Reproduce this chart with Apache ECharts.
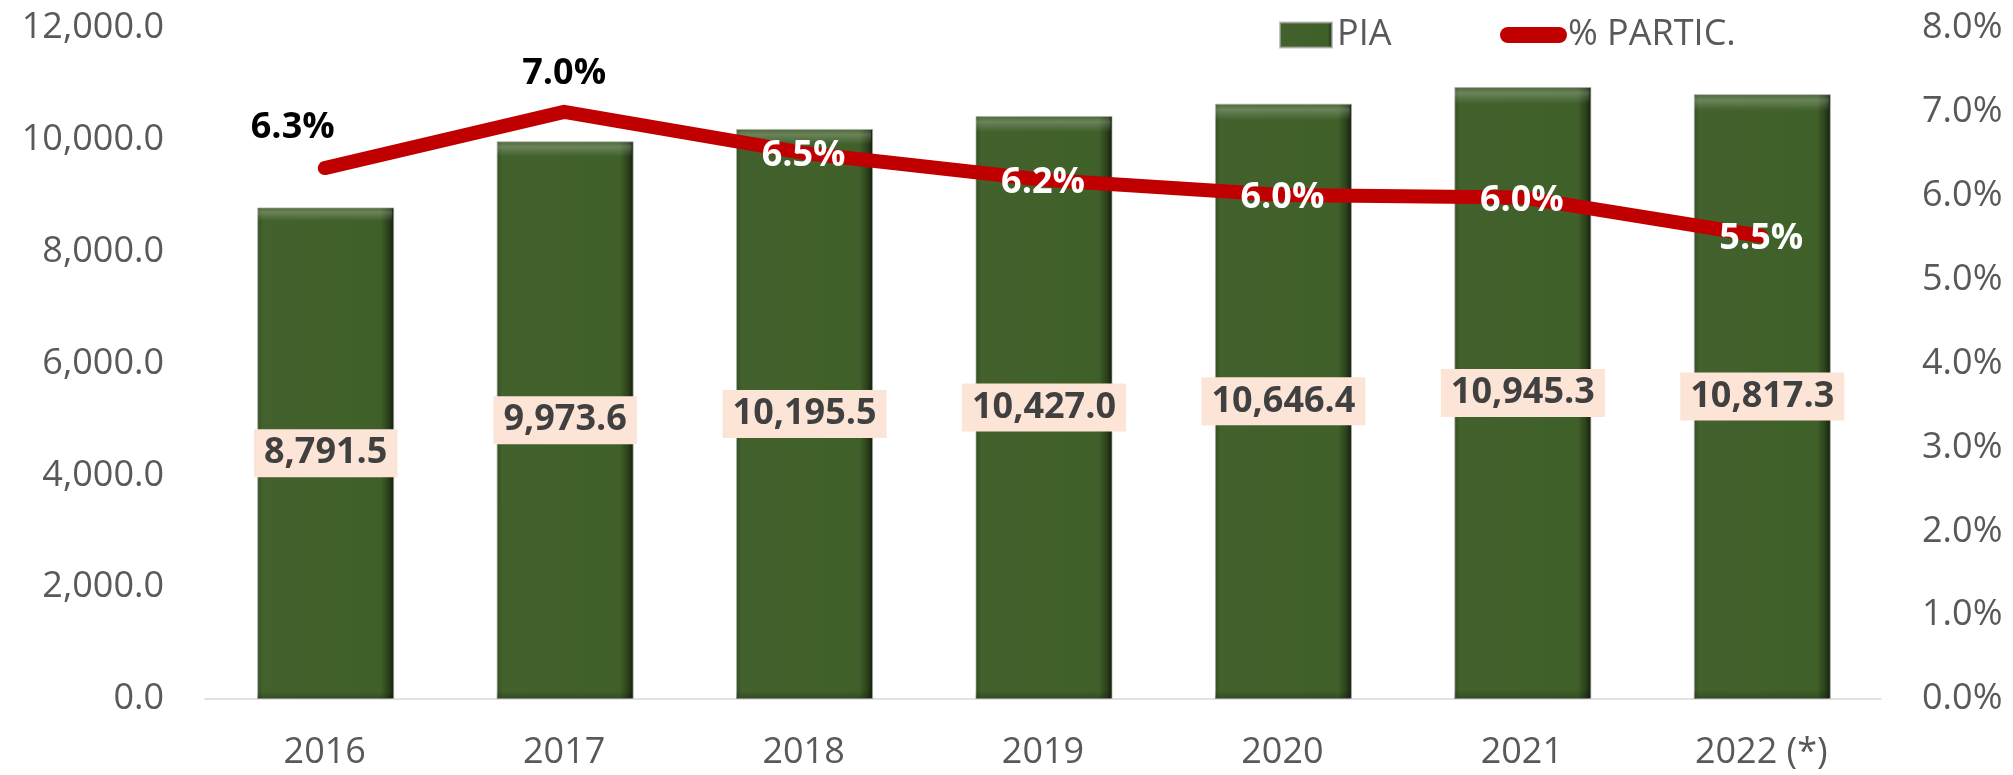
<!DOCTYPE html>
<html>
<head>
<meta charset="utf-8">
<script src="https://cdn.jsdelivr.net/npm/echarts@6/dist/echarts.min.js"></script>
<style>
  html, body { margin: 0; padding: 0; background: #fff; }
  #chart { width: 2013px; height: 775px; }
</style>
</head>
<body>
<div id="chart"></div>
<script>
  // datos
  var years = ['2016', '2017', '2018', '2019', '2020', '2021', '2022 (*)'];
  var piaValues = [8791.5, 9973.6, 10195.5, 10427.0, 10646.4, 10945.3, 10817.3];
  var partValues = [6.33, 7.0, 6.51, 6.19, 6.01, 5.98, 5.52];
  var leftTicks = { min: 0, max: 12000, interval: 2000 };
  var rightTicks = { min: 0, max: 8, interval: 1 };

  var FONT = '"Open Sans", "Noto Sans", sans-serif';
  var GRAY = '#595959';

  function fmt1(v) {
    return Number(v).toLocaleString('en-US', { minimumFractionDigits: 1, maximumFractionDigits: 1 });
  }

  var chart = echarts.init(document.getElementById('chart'));

  // etiquetas de la linea: las dos primeras arriba en negro, el resto encima de la linea en blanco
  var firstLabel = { position: 'top', distance: 22, offset: [-32, 0], color: '#000000' };
  var aboveLabel = { position: 'top', distance: 20, color: '#000000' };
  var centerLabel = { position: 'inside', offset: [0, 3], color: '#ffffff' };

  var option = {
    animation: false,
    textStyle: { fontFamily: FONT },
    grid: { left: 205, right: 132, top: 28, bottom: 76 },
    legend: [{
      data: ['PIA'],
      left: 1274,
      top: 12,
      itemWidth: 52,
      itemHeight: 25,
      icon: 'rect',
      textStyle: { fontSize: 36, color: GRAY, fontFamily: FONT }
    }, {
      data: ['% PARTIC.'],
      left: 1495,
      top: 12,
      itemWidth: 67,
      itemHeight: 16,
      itemGap: 0,
      icon: 'path://M8,0 L59,0 A8,8 0 0 1 59,16 L8,16 A8,8 0 0 1 8,0 Z',
      textStyle: { fontSize: 36, color: GRAY, fontFamily: FONT, padding: [0, 0, 0, -4] }
    }],
    xAxis: {
      type: 'category',
      data: years,
      axisLine: { lineStyle: { color: '#d9d9d9', width: 1.5 } },
      axisTick: { show: false },
      axisLabel: { fontSize: 36, color: GRAY, margin: 36 }
    },
    yAxis: [{
      type: 'value',
      min: leftTicks.min,
      max: leftTicks.max,
      interval: leftTicks.interval,
      splitLine: { show: false },
      axisLine: { show: false },
      axisTick: { show: false },
      axisLabel: { fontSize: 36, color: GRAY, margin: 41, formatter: fmt1 }
    }, {
      type: 'value',
      min: rightTicks.min,
      max: rightTicks.max,
      interval: rightTicks.interval,
      splitLine: { show: false },
      axisLine: { show: false },
      axisTick: { show: false },
      axisLabel: {
        fontSize: 36, color: GRAY, margin: 41,
        formatter: function (v) { return v.toFixed(1) + '%'; }
      }
    }],
    series: [{
      name: 'PIA',
      type: 'bar',
      data: piaValues,
      barWidth: 137,
      itemStyle: {
        color: new echarts.graphic.LinearGradient(0, 0, 1, 0, [
          { offset: 0, color: '#334f22' },
          { offset: 0.04, color: '#42612c' },
          { offset: 0.9, color: '#40602a' },
          { offset: 0.96, color: '#2a401b' },
          { offset: 1, color: '#121c0a' }
        ]),
        borderColor: 'rgba(170,170,170,0.7)',
        borderWidth: 1
      },
      label: {
        show: true,
        position: 'inside',
        fontSize: 36,
        fontWeight: 'bold',
        color: '#404040',
        backgroundColor: '#FCE4D6',
        padding: [7, 10, 5, 10],
        formatter: function (p) { return fmt1(p.value); }
      },
      z: 2
    }, {
      // brillo del bisel superior de las barras
      name: 'bisel',
      type: 'bar',
      data: piaValues,
      barWidth: 135,
      barGap: '-100%',
      silent: true,
      itemStyle: {
        color: new echarts.graphic.LinearGradient(0, 0, 0, 1, [
          { offset: 0, color: 'rgba(255,255,255,0.06)' },
          { offset: 0.01, color: 'rgba(255,255,255,0.22)' },
          { offset: 0.024, color: 'rgba(255,255,255,0.04)' },
          { offset: 0.028, color: 'rgba(255,255,255,0)' },
          { offset: 0.985, color: 'rgba(0,0,0,0)' },
          { offset: 1, color: 'rgba(0,0,0,0.22)' }
        ])
      },
      z: 3
    }, {
      name: '% PARTIC.',
      type: 'line',
      yAxisIndex: 1,
      data: partValues.map(function (v, i) {
        return { value: v, label: i === 0 ? firstLabel : (i === 1 ? aboveLabel : centerLabel) };
      }),
      symbol: 'circle',
      symbolSize: 1,
      itemStyle: { color: '#C00000' },
      lineStyle: { color: '#C00000', width: 14, cap: 'round', join: 'round' },
      label: {
        show: true,
        fontSize: 36,
        fontWeight: 'bold',
        formatter: function (p) { return p.value.toFixed(1) + '%'; }
      },
      z: 5
    }]
  };

  chart.setOption(option);
</script>
</body>
</html>
